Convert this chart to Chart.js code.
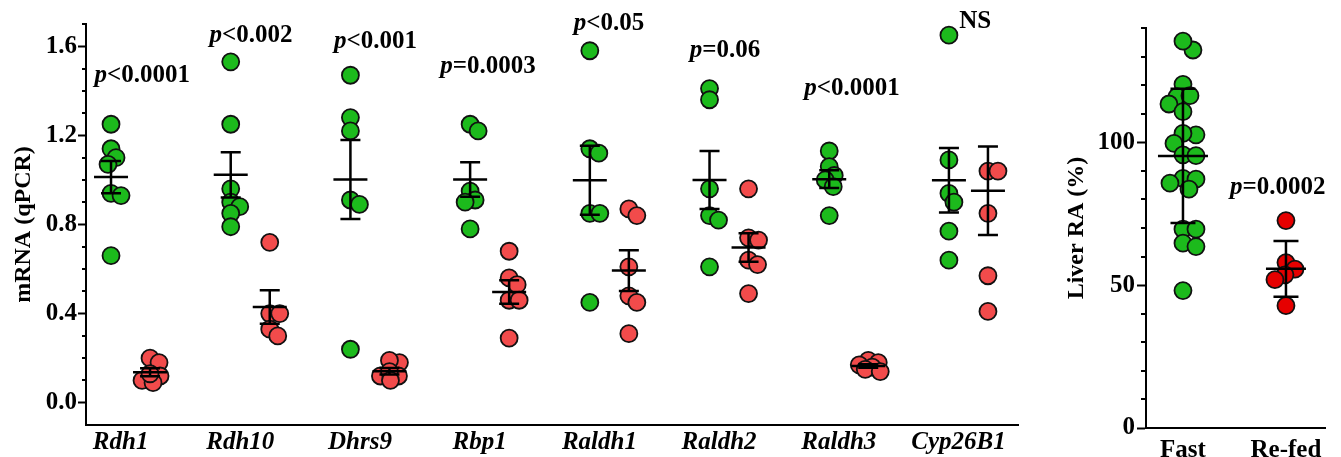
<!DOCTYPE html>
<html>
<head>
<meta charset="utf-8">
<script src="https://cdn.jsdelivr.net/npm/chart.js@4.4.0/dist/chart.umd.min.js"></script>
<style>
  html, body { margin: 0; padding: 0; background: #fff; }
  #left { position: absolute; left: 0; top: 0; width: 1035px; height: 457px; }
  #right { position: absolute; left: 1040px; top: 0; width: 301px; height: 457px; }
</style>
</head>
<body>
<div id="left"><canvas id="mrna"></canvas></div>
<div id="right"><canvas id="ra"></canvas></div>
<script>
// ---- data ----
const genes = ["Rdh1", "Rdh10", "Dhrs9", "Rbp1", "Raldh1", "Raldh2", "Raldh3", "Cyp26B1"];

// mRNA (qPCR), fasted mice (green)
const fastMrna = [
  [1.25, 1.14, 1.10, 1.07, 0.94, 0.93, 0.66],
  [1.53, 1.25, 0.96, 0.90, 0.88, 0.85, 0.79],
  [1.47, 1.28, 1.22, 0.91, 0.89, 0.24],
  [1.25, 1.22, 0.95, 0.91, 0.90, 0.78],
  [1.58, 1.14, 1.12, 0.85, 0.85, 0.45],
  [1.41, 1.36, 0.96, 0.84, 0.82, 0.61],
  [1.13, 1.06, 1.02, 1.00, 0.97, 0.84],
  [1.65, 1.09, 0.94, 0.90, 0.77, 0.64],
];

// mRNA (qPCR), re-fed mice (red); the 1.80 in Cyp26B1 sits above the axis
const refedMrna = [
  [0.20, 0.18, 0.12, 0.10, 0.09, 0.13],
  [0.72, 0.40, 0.40, 0.33, 0.30],
  [0.18, 0.19, 0.12, 0.12, 0.14, 0.10],
  [0.68, 0.56, 0.53, 0.46, 0.46, 0.29],
  [0.87, 0.84, 0.61, 0.48, 0.45, 0.31],
  [0.96, 0.74, 0.73, 0.64, 0.62, 0.49],
  [0.19, 0.18, 0.17, 0.16, 0.15, 0.14],
  [1.04, 1.04, 0.85, 0.57, 0.41, 1.80],
];

const mrnaNotes = ["p<0.0001", "p<0.002", "p<0.001", "p=0.0003", "p<0.05", "p=0.06", "p<0.0001", "NS"];
const mrnaTickLabels = [0.0, 0.4, 0.8, 1.2, 1.6];

const groups = ["Fast", "Re-fed"];
const fastRA = [132.3, 135.4, 120.3, 116.0, 116.3, 113.4, 110.7, 102.6, 103.1, 99.6, 95.6,
                95.3, 87.4, 87.1, 85.7, 83.6, 69.6, 69.6, 64.7, 63.5, 48.1];
const refedRA = [72.6, 57.9, 55.6, 53.6, 51.9, 42.8];
const raNote = "p=0.0002";
const raTickLabels = [0, 50, 100];

// ---- helpers ----
const SERIF = '"Liberation Serif", "Times New Roman", serif';
const FS = 25;
const GREEN = "#1cba1c";
const RED = "#f24b4b";
const RA_RED = "#e60000";
const RED_OFF = 0.326;

const meanOf = (a) => a.reduce((s, v) => s + v, 0) / a.length;
const sdOf = (a) => {
  const m = meanOf(a);
  return Math.sqrt(a.reduce((s, v) => s + (v - m) ** 2, 0) / (a.length - 1));
};
const semOf = (a) => sdOf(a) / Math.sqrt(a.length);

// simple beeswarm: nudge points sideways (px) within maxOff, allowing some overlap
function swarm(values, center, pxX, pxY, minDist, maxOff) {
  const placed = [];
  const out = [];
  const order = values.map((v, i) => i).sort((a, b) => values[b] - values[a]);
  for (const i of order) {
    const py = values[i] * pxY;
    let best = 0, bestScore = -1;
    for (let k = 0; k <= maxOff * 2; k++) {
      const d = k % 2 ? Math.ceil(k / 2) : -Math.ceil(k / 2);
      let near = Infinity;
      placed.forEach((p) => { near = Math.min(near, Math.hypot(p.x - d, p.y - py)); });
      if (near >= minDist) { best = d; break; }
      if (near > bestScore) { bestScore = near; best = d; }
    }
    placed.push({ x: best, y: py });
    out[i] = { x: center + best / pxX, y: values[i] };
  }
  return out;
}

const decor = {
  id: "decor",
  afterDatasetsDraw(chart, args, opts) {
    const { ctx, scales: { x, y } } = chart;
    ctx.save();
    ctx.strokeStyle = "#000";
    ctx.lineWidth = 2.5;
    opts.bars.forEach((b) => {
      const px = x.getPixelForValue(b.x);
      const pm = y.getPixelForValue(b.mean);
      const pt = y.getPixelForValue(b.mean + b.err);
      const pb = y.getPixelForValue(b.mean - b.err);
      ctx.beginPath();
      ctx.moveTo(px - b.half, pm); ctx.lineTo(px + b.half, pm);
      ctx.moveTo(px, pt); ctx.lineTo(px, pb);
      ctx.moveTo(px - b.cap, pt); ctx.lineTo(px + b.cap, pt);
      ctx.moveTo(px - b.cap, pb); ctx.lineTo(px + b.cap, pb);
      ctx.stroke();
    });
    ctx.restore();
  },
  afterDraw(chart, args, opts) {
    const { ctx, scales: { x, y } } = chart;
    ctx.save();
    ctx.strokeStyle = "#000";
    ctx.lineWidth = 2;
    opts.minor.forEach((v) => {
      const py = Math.round(y.getPixelForValue(v));
      ctx.beginPath();
      ctx.moveTo(y.right - opts.minorLen, py);
      ctx.lineTo(y.right, py);
      ctx.stroke();
    });
    ctx.fillStyle = "#000";
    ctx.textBaseline = "middle";
    ctx.textAlign = "left";
    opts.notes.forEach((n) => {
      const italic = n.text[0] === "p";
      const head = italic ? "p" : "";
      const tail = italic ? n.text.slice(1) : n.text;
      ctx.font = "italic bold " + FS + "px " + SERIF;
      const w1 = ctx.measureText(head).width;
      ctx.font = "bold " + FS + "px " + SERIF;
      const w2 = ctx.measureText(tail).width;
      const sx = x.getPixelForValue(n.x) - (w1 + w2) / 2;
      const sy = y.getPixelForValue(n.y);
      ctx.font = "italic bold " + FS + "px " + SERIF;
      ctx.fillText(head, sx, sy);
      ctx.font = "bold " + FS + "px " + SERIF;
      ctx.fillText(tail, sx + w1, sy);
    });
    ctx.restore();
  },
};

// ---- left panel: mRNA ----
const LX = 119.7, LY = 222.8;
const fastPts = [], refedPts = [], mrnaBars = [];
genes.forEach((g, i) => {
  fastPts.push(...swarm(fastMrna[i], i, LX, LY, 10, 12));
  refedPts.push(...swarm(refedMrna[i], i + RED_OFF, LX, LY, 10, 12));
  mrnaBars.push({ x: i, mean: meanOf(fastMrna[i]), err: semOf(fastMrna[i]), half: 17, cap: 10 });
  mrnaBars.push({ x: i + RED_OFF, mean: meanOf(refedMrna[i]), err: semOf(refedMrna[i]), half: 17, cap: 10 });
});
const noteX = [0.26, 1.17, 2.21, 3.15, 4.16, 5.13, 6.19, 7.22];
const noteY = [1.47, 1.65, 1.62, 1.51, 1.70, 1.58, 1.41, 1.71];
const mrnaMinor = [];
for (let k = 1; k <= 17; k++) if (k % 4 !== 0) mrnaMinor.push(k / 10);

new Chart(document.getElementById("mrna"), {
  type: "scatter",
  plugins: [decor],
  data: {
    datasets: [
      { data: fastPts, backgroundColor: GREEN },
      { data: refedPts, backgroundColor: RED },
    ],
  },
  options: {
    responsive: true,
    maintainAspectRatio: false,
    animation: false,
    layout: { padding: { top: 24, right: 17, left: 0, bottom: 0 } },
    elements: { point: { radius: 8.5, borderWidth: 1.8, borderColor: "#111", hoverRadius: 8.5 } },
    plugins: {
      legend: { display: false },
      tooltip: { enabled: false },
      decor: {
        bars: mrnaBars,
        minor: mrnaMinor,
        minorLen: 4,
        notes: mrnaNotes.map((t, i) => ({ text: t, x: noteX[i], y: noteY[i] })),
      },
    },
    scales: {
      x: {
        type: "linear",
        min: -0.209,
        max: 7.577,
        afterBuildTicks: (s) => { s.ticks = genes.map((g, i) => ({ value: i + 0.08 })); },
        afterFit: (s) => { s.height = 32; },
        grid: { display: false },
        border: { display: true, color: "#000", width: 2 },
        ticks: {
          autoSkip: false, maxRotation: 0, padding: -5, color: "#000",
          font: { family: SERIF, size: FS, weight: "bold", style: "italic" },
          callback: (v, i) => genes[i],
        },
      },
      y: {
        min: -0.1,
        max: 1.7,
        afterBuildTicks: (s) => { s.ticks = mrnaTickLabels.map((v) => ({ value: v })); },
        afterFit: (s) => { s.width = 86; },
        grid: { display: true, drawOnChartArea: false, drawTicks: true, tickLength: 8, tickWidth: 2, tickColor: "#000" },
        border: { display: true, color: "#000", width: 2 },
        ticks: {
          padding: 1, color: "#000",
          font: { family: SERIF, size: FS, weight: "bold" },
          callback: (v) => v.toFixed(1),
        },
        title: {
          display: true, text: "mRNA (qPCR)", color: "#000",
          font: { family: SERIF, size: 24, weight: "bold" },
          padding: { top: 9, bottom: 0 },
        },
      },
    },
  },
});

// ---- right panel: liver RA ----
const RX = 103, RY = 2.857;
const raMinor = [];
for (let k = 10; k <= 140; k += 10) if (k % 50 !== 0) raMinor.push(k);

new Chart(document.getElementById("ra"), {
  type: "scatter",
  plugins: [decor],
  data: {
    datasets: [
      { data: swarm(fastRA, 0, RX, RY, 13, 14), backgroundColor: GREEN },
      { data: swarm(refedRA, 1, RX, RY, 11, 12), backgroundColor: RA_RED },
    ],
  },
  options: {
    responsive: true,
    maintainAspectRatio: false,
    animation: false,
    layout: { padding: { top: 28, right: 16, left: 0, bottom: 0 } },
    elements: { point: { radius: 8.5, borderWidth: 1.8, borderColor: "#111", hoverRadius: 8.5 } },
    plugins: {
      legend: { display: false },
      tooltip: { enabled: false },
      decor: {
        bars: [
          { x: 0, mean: meanOf(fastRA), err: sdOf(fastRA), half: 25, cap: 12.5 },
          { x: 1, mean: meanOf(refedRA), err: sdOf(refedRA), half: 20, cap: 12.5 },
        ],
        minor: raMinor,
        minorLen: 5,
        notes: [{ text: raNote, x: 0.92, y: 84 }],
      },
    },
    scales: {
      x: {
        type: "linear",
        min: -0.359,
        max: 1.379,
        afterBuildTicks: (s) => { s.ticks = groups.map((g, i) => ({ value: i })); },
        afterFit: (s) => { s.height = 29; },
        grid: { display: false },
        border: { display: true, color: "#000", width: 2 },
        ticks: {
          autoSkip: false, maxRotation: 0, padding: 0, color: "#000",
          font: { family: SERIF, size: FS, weight: "bold" },
          callback: (v, i) => groups[i],
        },
      },
      y: {
        min: 0,
        max: 140,
        afterBuildTicks: (s) => { s.ticks = raTickLabels.map((v) => ({ value: v })); },
        afterFit: (s) => { s.width = 106; },
        grid: { display: true, drawOnChartArea: false, drawTicks: true, tickLength: 9, tickWidth: 2, tickColor: "#000" },
        border: { display: true, color: "#000", width: 2 },
        ticks: {
          padding: 2, color: "#000",
          font: { family: SERIF, size: FS, weight: "bold" },
        },
        title: {
          display: true, text: "Liver RA (%)", color: "#000",
          font: { family: SERIF, size: 24, weight: "bold" },
          padding: { top: 22, bottom: 0 },
        },
      },
    },
  },
});
</script>
</body>
</html>
